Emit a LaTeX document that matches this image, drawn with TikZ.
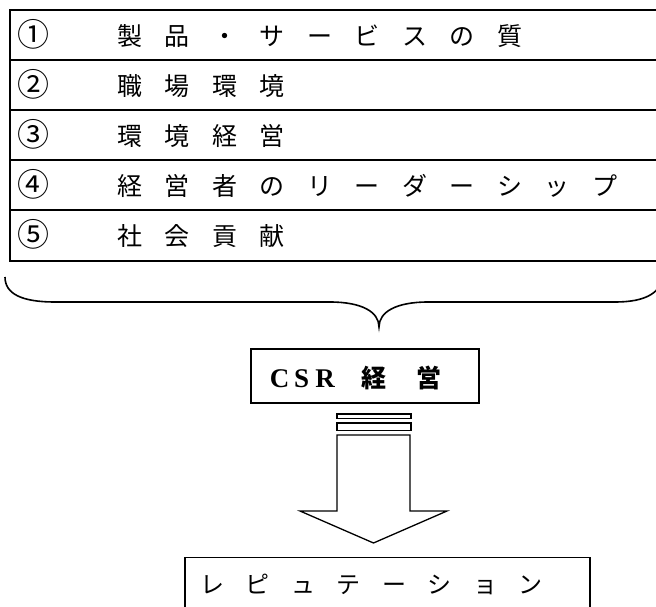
\documentclass[tikz,border=0pt]{standalone}
\usepackage{fontspec}
\newfontfamily\cjk{Noto Sans CJK JP}
\newfontfamily\lser{Liberation Serif}
\newcommand\jgap{\hspace{22.5pt}}
\newcommand\kgap{\hspace{21.5pt}}
\begin{document}
\begin{tikzpicture}[x=1pt,y=-1pt,line join=miter,
  tbl/.style={line width=2pt},
  thinbox/.style={line width=1.3pt},
  bracestyle/.style={line width=1.6pt},
  num/.style={anchor=center,inner sep=0pt,font=\cjk\fontsize{32}{34}\selectfont},
  item/.style={anchor=base west,inner sep=0pt,font=\cjk\fontsize{25}{28}\selectfont}]
\useasboundingbox (0,0) rectangle (656,607);
\clip (0,0) rectangle (656,607);
% table
\draw[tbl] (9.5,10) rectangle (670,261);
\foreach \yy in {60,110,160,210} \draw[tbl] (9.5,\yy) -- (670,\yy);
\node[num] (n1) at (33.5,34) {①};
\node[num] (n2) at (33.5,84) {②};
\node[num] (n3) at (33.5,134) {③};
\node[num] (n4) at (33.5,184) {④};
\node[num] (n5) at (33.5,234) {⑤};
\node[item] (t1) at (117,45.5) {製\jgap 品\jgap ・\jgap サ\jgap ー\jgap ビ\jgap ス\jgap の\jgap 質};
\node[item] (t2) at (117,95.5) {職\jgap 場\jgap 環\jgap 境};
\node[item] (t3) at (117,145.5) {環\jgap 境\jgap 経\jgap 営};
\node[item] (t4) at (117,195.5) {経\jgap 営\jgap 者\jgap の\jgap リ\jgap ー\jgap ダ\jgap ー\jgap シ\jgap ッ\jgap プ};
\node[item] (t5) at (117,245.5) {社\jgap 会\jgap 貢\jgap 献};
% brace
\draw[bracestyle] (5,277) .. controls (5,294) and (22,302) .. (55,302)
  -- (330,302) .. controls (362,302) and (379,312) .. (379,327)
  .. controls (379,312) and (396,302) .. (428,302)
  -- (615,302) .. controls (640,302) and (656,296) .. (662,282);
% CSR box
\node[draw,thinbox,minimum width=228pt,minimum height=54pt,inner sep=0pt] (csr) at (365,376) {};
\node[anchor=base west,inner sep=0pt] (csrt) at (279.5,387)
  {\fontsize{27}{30}\selectfont\lser\bfseries\makebox[0pt]{C}\hspace{22pt}\makebox[0pt]{S}\hspace{23.5pt}\makebox[0pt]{R}\hspace{49pt}\cjk\fontsize{25}{30}\selectfont\makebox[0pt]{経}\hspace{55pt}\makebox[0pt]{営}};
% arrow
\coordinate (tip) at (373.5,543);
\draw[thinbox] (337,414) rectangle (411,418.5);
\draw[thinbox] (337,423) rectangle (411,430.5);
\draw[thinbox] (337,435) -- (410,435) -- (410,511) -- (447,511) -- (tip) -- (300,511) -- (337,511) -- cycle;
% lower box
\node[draw,line width=1.5pt,minimum width=405pt,minimum height=70pt,inner sep=0pt,anchor=north west] (rep) at (184,556.5) {};
\node[item,font=\cjk\fontsize{24}{28}\selectfont] (rept) at (200,593) {レ\kgap ピ\kgap ュ\kgap テ\kgap ー\kgap シ\kgap ョ\kgap ン};
\end{tikzpicture}
\end{document}
